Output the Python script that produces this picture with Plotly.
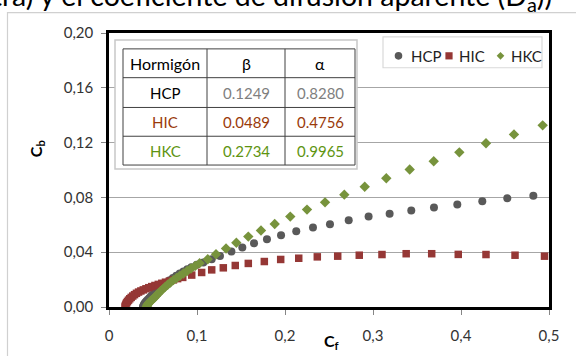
import plotly.graph_objects as go

# ---------------- data ----------------
hcp_cf = [0.0386, 0.0390, 0.0396, 0.0404, 0.0414, 0.0426, 0.0440, 0.0456, 0.0474, 0.0494,
          0.0516, 0.0540, 0.0566, 0.0594, 0.0624, 0.0656, 0.0690, 0.0726, 0.0764, 0.0804,
          0.0846, 0.0890, 0.0936, 0.0997, 0.1072, 0.1167, 0.1261, 0.1391, 0.1515, 0.1648,
          0.1795, 0.1955, 0.2128, 0.2318, 0.2511, 0.2724, 0.2950, 0.3189, 0.3435, 0.3693,
          0.3958, 0.4242, 0.4526, 0.4822]
hcp_cb = [0.0000, 0.0008, 0.0016, 0.0025, 0.0034, 0.0043, 0.0053, 0.0064, 0.0076, 0.0089,
          0.0103, 0.0117, 0.0131, 0.0146, 0.0161, 0.0178, 0.0196, 0.0212, 0.0228, 0.0244,
          0.0260, 0.0275, 0.0290, 0.0308, 0.0325, 0.0349, 0.0373, 0.0405, 0.0434, 0.0465,
          0.0495, 0.0524, 0.0553, 0.0580, 0.0604, 0.0633, 0.0660, 0.0681, 0.0705, 0.0727,
          0.0749, 0.0771, 0.0793, 0.0812]

hic_cf = [0.0182, 0.0186, 0.0192, 0.0200, 0.0210, 0.0222, 0.0236, 0.0252, 0.0270, 0.0290,
          0.0312, 0.0336, 0.0362, 0.0390, 0.0420, 0.0452, 0.0486, 0.0522, 0.0560, 0.0600,
          0.0642, 0.0686, 0.0732, 0.0780, 0.0838, 0.0940, 0.1053, 0.1167, 0.1299, 0.1435,
          0.1583, 0.1765, 0.1951, 0.2156, 0.2367, 0.2599, 0.2844, 0.3102, 0.3377, 0.3667,
          0.3969, 0.4284, 0.4614, 0.4949]
hic_cb = [0.0000, 0.0010, 0.0020, 0.0030, 0.0040, 0.0050, 0.0060, 0.0070, 0.0080, 0.0090,
          0.0100, 0.0109, 0.0117, 0.0125, 0.0133, 0.0141, 0.0149, 0.0157, 0.0165, 0.0173,
          0.0181, 0.0189, 0.0198, 0.0207, 0.0216, 0.0233, 0.0252, 0.0271, 0.0286, 0.0303,
          0.0318, 0.0332, 0.0347, 0.0356, 0.0366, 0.0371, 0.0378, 0.0383, 0.0389, 0.0389,
          0.0384, 0.0383, 0.0378, 0.0371]

hkc_cf = [0.0428, 0.0432, 0.0438, 0.0446, 0.0456, 0.0468, 0.0482, 0.0498, 0.0516, 0.0536,
          0.0558, 0.0582, 0.0608, 0.0636, 0.0666, 0.0698, 0.0732, 0.0768, 0.0806, 0.0846,
          0.0888, 0.0932, 0.0980, 0.1030, 0.1122, 0.1216, 0.1330, 0.1447, 0.1583, 0.1727,
          0.1883, 0.2060, 0.2250, 0.2455, 0.2674, 0.2906, 0.3151, 0.3417, 0.3690, 0.3981,
          0.4284, 0.4602, 0.4928]
hkc_cb = [0.0000, 0.0008, 0.0016, 0.0024, 0.0032, 0.0040, 0.0049, 0.0057, 0.0068, 0.0082,
          0.0097, 0.0113, 0.0129, 0.0145, 0.0162, 0.0179, 0.0196, 0.0212, 0.0228, 0.0245,
          0.0263, 0.0281, 0.0300, 0.0320, 0.0349, 0.0385, 0.0427, 0.0469, 0.0514, 0.0558,
          0.0606, 0.0660, 0.0711, 0.0764, 0.0820, 0.0878, 0.0940, 0.1004, 0.1064, 0.1129,
          0.1195, 0.1260, 0.1326]

series_names = ["HCP", "HIC", "HKC"]
table_header = ["Hormigón", "β", "α"]
beta_values = ["0.1249", "0.0489", "0.2734"]
alpha_values = ["0.8280", "0.4756", "0.9965"]

x_tickvals = [0, 0.1, 0.2, 0.3, 0.4, 0.5]
x_ticktext = ["0", "0,1", "0,2", "0,3", "0,4", "0,5"]
y_tickvals = [0, 0.04, 0.08, 0.12, 0.16, 0.20]
y_ticktext = ["0,00", "0,04", "0,08", "0,12", "0,16", "0,20"]

# ---------------- style ----------------
FONT = "Lato"
W, H = 576, 356
L, R, T, B = 109, 549, 33, 309
C_HCP, C_HIC, C_HKC = "#595959", "#953735", "#77933C"
T_HCP, T_HIC, T_HKC = "#7F7F7F", "#9A3A0A", "#5E9410"


def px(x):
    return (x - L) / (R - L)


def py(y):
    return (B - y) / (B - T)


fig = go.Figure()
fig.add_trace(go.Scatter(x=hcp_cf, y=hcp_cb, mode="markers", name=series_names[0],
                         marker=dict(symbol="circle", size=8, color=C_HCP)))
fig.add_trace(go.Scatter(x=hic_cf, y=hic_cb, mode="markers", name=series_names[1],
                         marker=dict(symbol="square", size=7.5, color=C_HIC)))
fig.add_trace(go.Scatter(x=hkc_cf, y=hkc_cb, mode="markers", name=series_names[2],
                         marker=dict(symbol="diamond", size=8, color=C_HKC)))

shapes = []
annotations = []

# chart-area light border (top/left)
shapes.append(dict(type="rect", xref="paper", yref="paper",
                   x0=px(7.5), x1=px(590), y0=py(370), y1=py(12.5),
                   line=dict(color="#D0D0D0", width=1.2), layer="below"))

# table: outer box
shapes.append(dict(type="rect", xref="paper", yref="paper",
                   x0=px(115), x1=px(357), y0=py(170), y1=py(40),
                   line=dict(color="#C8C8C8", width=1.5), fillcolor="white", layer="above"))
# inner table grid
tx = [123, 207, 285, 355]
ty = [49, 78, 108, 137, 166]
for xv in tx:
    shapes.append(dict(type="line", xref="paper", yref="paper", x0=px(xv), x1=px(xv),
                       y0=py(ty[0]), y1=py(ty[-1]), line=dict(color="#404040", width=1)))
for yv in ty:
    shapes.append(dict(type="line", xref="paper", yref="paper", x0=px(tx[0]), x1=px(tx[-1]),
                       y0=py(yv), y1=py(yv), line=dict(color="#404040", width=1)))

col_c = [(tx[i] + tx[i + 1]) / 2 for i in range(3)]
row_c = [(ty[i] + ty[i + 1]) / 2 for i in range(4)]


def cell(text, ci, ri, color="black", size=15):
    annotations.append(dict(text=text, xref="paper", yref="paper", x=px(col_c[ci]), y=py(row_c[ri]),
                            xanchor="center", yanchor="middle", showarrow=False,
                            font=dict(family=FONT, size=size, color=color)))


for ci, h in enumerate(table_header):
    cell(h, ci, 0, size=16)
name_cols = ["black", T_HIC, T_HKC]
val_cols = [T_HCP, T_HIC, T_HKC]
for ri in range(3):
    cell(series_names[ri], 0, ri + 1, name_cols[ri])
    cell(beta_values[ri], 1, ri + 1, val_cols[ri])
    cell(alpha_values[ri], 2, ri + 1, val_cols[ri])

# manual legend
shapes.append(dict(type="rect", xref="paper", yref="paper",
                   x0=px(383), x1=px(542), y0=py(68), y1=py(37),
                   line=dict(color="#D9D9D9", width=1.2), fillcolor="white"))
ly = 56
shapes.append(dict(type="circle", xref="paper", yref="paper", xsizemode="pixel", ysizemode="pixel",
                   xanchor=px(398.5), yanchor=py(ly), x0=-3.8, x1=3.8, y0=-3.8, y1=3.8,
                   fillcolor=C_HCP, line=dict(width=0)))
shapes.append(dict(type="rect", xref="paper", yref="paper", xsizemode="pixel", ysizemode="pixel",
                   xanchor=px(449), yanchor=py(ly), x0=-3.6, x1=3.6, y0=-3.6, y1=3.6,
                   fillcolor=C_HIC, line=dict(width=0)))
shapes.append(dict(type="path", xref="paper", yref="paper", xsizemode="pixel", ysizemode="pixel",
                   xanchor=px(500.5), yanchor=py(ly),
                   path="M -3.8 0 L 0 3.8 L 3.8 0 L 0 -3.8 Z",
                   fillcolor=C_HKC, line=dict(width=0)))
for name, xpos in zip(series_names, [409, 457, 509]):
    annotations.append(dict(text=name, xref="paper", yref="paper", x=px(xpos), y=py(ly),
                            xanchor="left", yanchor="middle", showarrow=False,
                            font=dict(family=FONT, size=15, color="#222222")))

# axis titles
annotations.append(dict(text="<b>C<sub>b</sub></b>", xref="paper", yref="paper", x=px(36), y=py(150),
                        xanchor="center", yanchor="middle", showarrow=False, textangle=-90,
                        font=dict(family=FONT, size=16, color="black")))
annotations.append(dict(text="<b>C<sub>f</sub></b>", xref="paper", yref="paper", x=px(331), y=py(344),
                        xanchor="center", yanchor="middle", showarrow=False,
                        font=dict(family=FONT, size=16, color="black")))

# clipped page text above the chart
annotations.append(dict(text="muestra) y el coeficiente de difusión aparente (D<sub>a</sub>))",
                        xref="paper", yref="paper", x=px(554), y=py(-3.5),
                        xanchor="right", yanchor="middle", showarrow=False,
                        font=dict(family=FONT, size=28.5, color="black")))

fig.update_layout(
    width=W, height=H,
    margin=dict(l=L, r=W - R, t=T, b=H - B, pad=0),
    paper_bgcolor="white", plot_bgcolor="white",
    showlegend=False,
    shapes=shapes, annotations=annotations,
    font=dict(family=FONT, size=15, color="#333333"),
)
fig.update_xaxes(range=[0, 0.5], tickvals=x_tickvals, ticktext=x_ticktext,
                 showgrid=False, zeroline=False,
                 showline=True, mirror=True, linecolor="black", linewidth=2.5,
                 ticks="outside", ticklen=5, tickcolor="#868686", tickwidth=1,
                 ticklabelstandoff=8, tickfont=dict(family=FONT, size=15, color="#333333"))
fig.update_yaxes(range=[0, 0.2], tickvals=y_tickvals, ticktext=y_ticktext,
                 showgrid=True, gridcolor="#A6A6A6", gridwidth=1, zeroline=False,
                 showline=True, mirror=True, linecolor="black", linewidth=2.5,
                 ticks="outside", ticklen=5, tickcolor="#868686", tickwidth=1,
                 ticklabelstandoff=5, tickfont=dict(family=FONT, size=15, color="#333333"))

fig.write_html("out.html", config={"displayModeBar": False},
               post_script="document.body.style.margin='0px';document.body.style.overflow='hidden';")
